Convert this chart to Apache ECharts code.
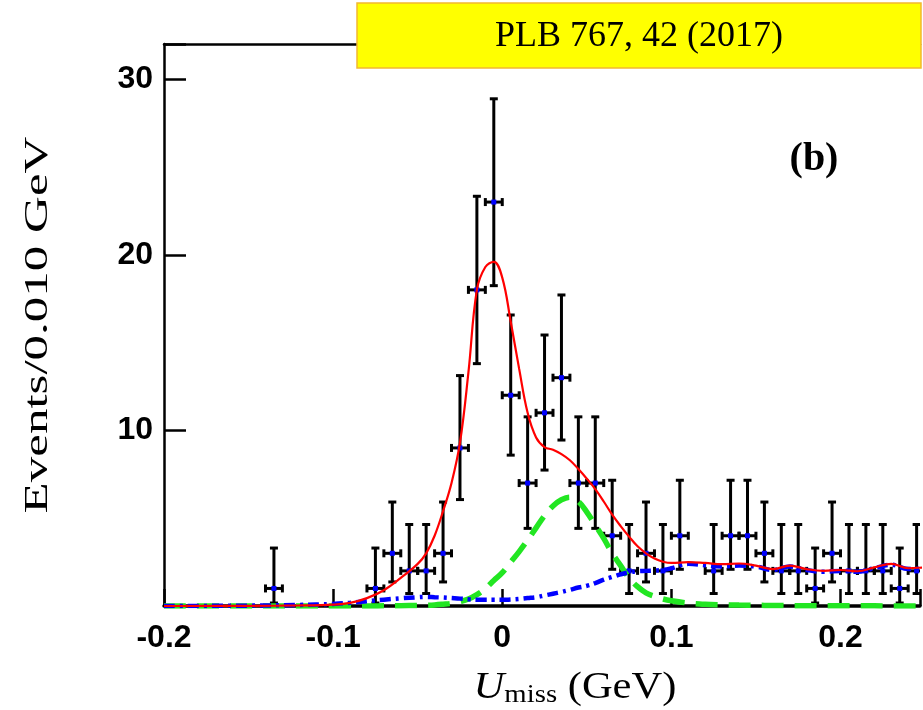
<!DOCTYPE html>
<html>
<head>
<meta charset="utf-8">
<script src="https://cdn.jsdelivr.net/npm/echarts@6/dist/echarts.min.js"></script>
<style>
html,body{margin:0;padding:0;background:#fff;}
#chart{width:923px;height:710px;}
</style>
</head>
<body>
<div id="chart"></div>
<script>
// ---- data ----
var binHalfWidth = 0.005;
var pointX = [-0.135,-0.075,-0.065,-0.055,-0.045,-0.035,-0.025,-0.015,-0.005,0.005,0.015,0.025,0.035,0.045,0.055,0.065,0.075,0.085,0.095,0.105,0.125,0.135,0.145,0.155,0.165,0.175,0.185,0.195,0.205,0.215,0.225,0.235,0.245];
var counts = [1,1,3,2,2,3,9,18,23,12,7,11,13,7,7,4,2,3,2,4,2,4,4,3,2,2,1,3,2,2,2,1,2];
var errLow = [0.17,0.17,1.37,0.71,0.71,1.37,6.06,13.80,18.24,8.59,4.42,7.74,9.45,4.42,4.42,2.09,0.71,1.37,0.71,2.09,0.71,2.09,2.09,1.37,0.71,0.71,0.17,1.37,0.71,0.71,0.71,0.17,0.71];
var errHigh = [3.30,3.30,5.92,4.64,4.64,5.92,13.12,23.33,28.88,16.57,10.77,15.43,17.71,10.77,10.77,7.16,4.64,5.92,4.64,7.16,4.64,7.16,7.16,5.92,4.64,4.64,3.30,5.92,4.64,4.64,4.64,3.30,4.64];

var curveX = [-0.2,-0.15,-0.12,-0.1,-0.09,-0.08,-0.07,-0.06,-0.05,-0.045,-0.04,-0.035,-0.03,-0.025,-0.02,-0.015,-0.01,-0.005,0,0.005,0.01,0.015,0.02,0.025,0.03,0.035,0.04,0.045,0.05,0.055,0.06,0.065,0.07,0.075,0.08,0.085,0.09,0.095,0.1,0.11,0.12,0.13,0.14,0.15,0.16,0.17,0.18,0.19,0.2,0.21,0.22,0.23,0.24,0.25,0.26];
var totalFit = [0.0,0.01,0.03,0.08,0.18,0.45,0.9,1.6,2.4,3.0,4.0,5.4,7.0,9.3,13.3,18.0,19.3,19.6,18.7,16.2,13.5,11.0,9.6,9.05,8.9,8.65,8.3,7.8,7.25,6.65,5.95,5.2,4.55,3.95,3.4,3.0,2.7,2.52,2.45,2.5,2.45,2.38,2.42,2.3,2.1,2.3,2.1,2.0,2.05,1.98,2.2,2.4,2.15,2.2,2.25];
var background = [0.0,0.02,0.06,0.12,0.18,0.27,0.36,0.44,0.5,0.52,0.5,0.48,0.45,0.42,0.38,0.36,0.35,0.35,0.35,0.37,0.4,0.45,0.5,0.6,0.7,0.8,0.92,1.05,1.15,1.3,1.5,1.65,1.8,1.92,1.98,2.0,2.02,2.05,2.15,2.4,2.32,2.25,2.3,2.25,2.05,2.25,2.05,1.95,2.0,1.95,2.15,2.35,2.1,2.15,2.2];
var peaking = [0,0,0,0,0,0,0.01,0.02,0.03,0.04,0.06,0.1,0.15,0.25,0.4,0.65,1.0,1.45,1.9,2.5,3.1,3.75,4.45,5.15,5.7,6.05,6.2,5.95,5.35,4.6,3.85,3.0,2.3,1.6,1.1,0.75,0.55,0.4,0.3,0.17,0.1,0.07,0.05,0.04,0.03,0.02,0.02,0.01,0.01,0.01,0.01,0,0,0,0];

var xMin = -0.2, xMax = 0.247, xTickStep = 0.1;
var yMin = 0, yMax = 32, yTickStep = 10;
var titleText = 'PLB 767, 42 (2017)';
var panelText = '(b)';
var yTitle = 'Events/0.010 GeV';

// ---- build ----
function zip(xs, ys){ var o=[]; for(var i=0;i<xs.length;i++) o.push([xs[i], ys[i]]); return o; }
function onStep(v, step){ var r = v / step; return Math.abs(r - Math.round(r)) < 1e-6; }
var pointData = [];
for (var i=0;i<pointX.length;i++) pointData.push([pointX[i], counts[i], errLow[i], errHigh[i]]);

var chart = echarts.init(document.getElementById('chart'), null, {renderer:'canvas'});
var tickFont = "'Liberation Sans',Arial,sans-serif";
var serif = "'Liberation Serif','Times New Roman',serif";

var option = {
  backgroundColor: '#ffffff',
  animation: false,
  grid: { left: 164, right: 0, top: 44, bottom: 104, containLabel: false },
  xAxis: [{
    type: 'value', min: xMin, max: xMax, interval: xTickStep, position: 'bottom',
    axisLine: { show: true, onZero: false, lineStyle: { color: '#000', width: 3.5 } },
    axisTick: { show: true, inside: true, length: 17, lineStyle: { color: '#000', width: 2.5 },
      interval: function(idx, v){ return onStep(+v, xTickStep); } },
    axisLabel: { margin: 16, color: '#000', fontFamily: tickFont, fontWeight: 'bold', fontSize: 32,
      formatter: function(v){ return onStep(v, xTickStep) ? String(+v.toFixed(2)) : ''; } },
    splitLine: { show: false }
  },{
    type: 'value', min: xMin, max: xMax, position: 'top',
    axisLine: { show: true, onZero: false, lineStyle: { color: '#000', width: 2.5 } },
    axisTick: { show: false }, axisLabel: { show: false }, splitLine: { show: false }
  }],
  yAxis: [{
    type: 'value', min: yMin, max: yMax, interval: yTickStep,
    axisLine: { show: true, onZero: false, lineStyle: { color: '#000', width: 2.5 } },
    axisTick: { show: true, inside: true, length: 22, lineStyle: { color: '#000', width: 2.5 } },
    axisLabel: { margin: 11, color: '#000', fontFamily: tickFont, fontWeight: 'bold', fontSize: 32,
      formatter: function(v){ return (v === 0 || !onStep(v, yTickStep)) ? '' : String(v); } },
    splitLine: { show: false }
  }],
  series: [
    {
      type: 'custom', z: 2, data: pointData, clip: true,
      renderItem: function(params, api){
        var x = api.value(0), y = api.value(1), lo = api.value(2), hi = api.value(3);
        var c = api.coord([x, y]);
        var pLo = api.coord([x, lo]), pHi = api.coord([x, hi]);
        var pL = api.coord([x - binHalfWidth, y]), pR = api.coord([x + binHalfWidth, y]);
        var cap = 4;
        var ls = { stroke: '#000', lineWidth: 3 };
        var el = [
          { type: 'line', shape: { x1: c[0], y1: pLo[1], x2: c[0], y2: pHi[1] }, style: ls },
          { type: 'line', shape: { x1: c[0]-cap, y1: pLo[1], x2: c[0]+cap, y2: pLo[1] }, style: ls },
          { type: 'line', shape: { x1: c[0]-cap, y1: pHi[1], x2: c[0]+cap, y2: pHi[1] }, style: ls },
          { type: 'line', shape: { x1: pL[0], y1: c[1], x2: pR[0], y2: c[1] }, style: ls },
          { type: 'line', shape: { x1: pL[0], y1: c[1]-cap, x2: pL[0], y2: c[1]+cap }, style: ls },
          { type: 'line', shape: { x1: pR[0], y1: c[1]-cap, x2: pR[0], y2: c[1]+cap }, style: ls },
          { type: 'rect', shape: { x: c[0]-2.5, y: c[1]-2.5, width: 5, height: 5 }, style: { fill: '#0000ff' } }
        ];
        return { type: 'group', children: el };
      }
    },
    {
      type: 'line', z: 3, data: zip(curveX, peaking), showSymbol: false, symbol: 'none',
      smooth: 0.4, lineStyle: { color: '#22e622', width: 5.5, type: [22, 11] }
    },
    {
      type: 'line', z: 4, data: zip(curveX, background), showSymbol: false, symbol: 'none',
      smooth: 0.4, lineStyle: { color: '#0000ff', width: 4.5, type: [11, 5, 3, 5] }
    },
    {
      type: 'line', z: 5, data: zip(curveX, totalFit), showSymbol: false, symbol: 'none',
      smooth: 0.4, lineStyle: { color: '#ff0000', width: 2.2 }
    }
  ],
  graphic: [
    { type: 'rect', z: 100, shape: { x: 357, y: 3, width: 564, height: 65 },
      style: { fill: '#ffff00', stroke: '#f2b830', lineWidth: 1.5 } },
    { type: 'text', z: 101, x: 639, y: 37,
      style: { text: titleText, font: '36px ' + serif, fill: '#000', textAlign: 'center', textVerticalAlign: 'middle' } },
    { type: 'text', z: 101, x: 814, y: 160,
      style: { text: panelText, font: 'bold 40px ' + serif, fill: '#000', textAlign: 'center', textVerticalAlign: 'middle' } },
    { type: 'text', z: 101, x: 38, y: 325, rotation: Math.PI/2, scaleX: 1.5, scaleY: 1,
      style: { text: yTitle, font: '34px ' + serif, fill: '#000', textAlign: 'center', textVerticalAlign: 'middle' } },
    { type: 'text', z: 101, x: 575, y: 688, scaleX: 1.15, scaleY: 1,
      style: {
        text: '{u|U}{s|miss}{n| (GeV)}',
        textAlign: 'center', textVerticalAlign: 'middle',
        rich: {
          u: { font: 'italic 37px ' + serif, fill: '#000', verticalAlign: 'middle' },
          s: { font: '25px ' + serif, fill: '#000', verticalAlign: 'bottom', padding: [14, 0, 0, 0] },
          n: { font: '37px ' + serif, fill: '#000', verticalAlign: 'middle' }
        }
      } }
  ]
};
chart.setOption(option);
</script>
</body>
</html>
